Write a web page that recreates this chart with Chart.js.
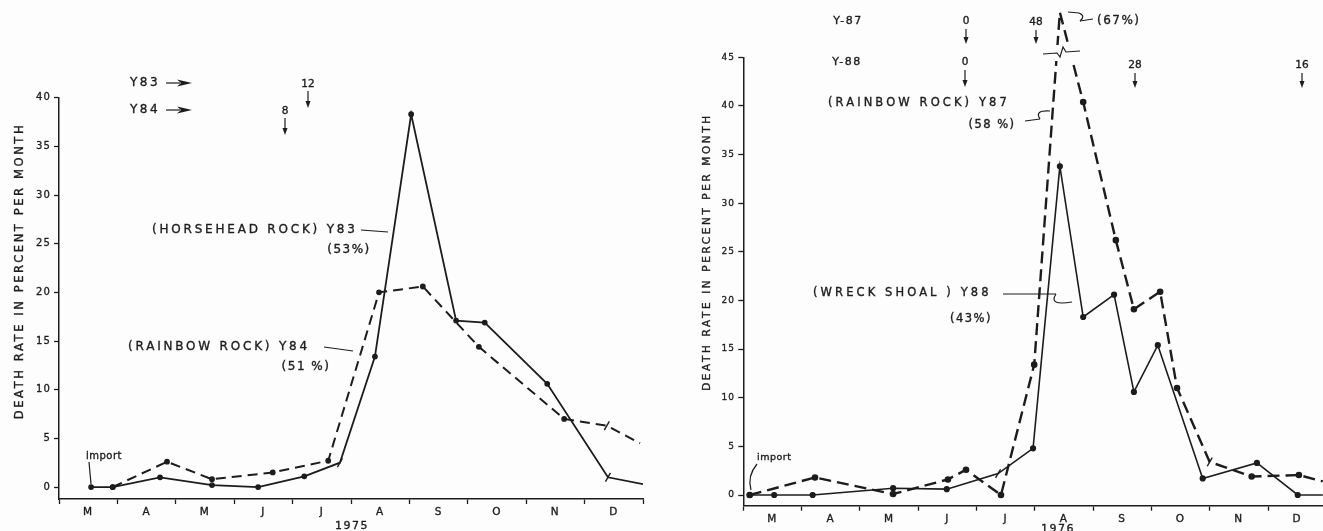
<!DOCTYPE html>
<html>
<head>
<meta charset="utf-8">
<script src="https://cdn.jsdelivr.net/npm/chart.js@4.4.1/dist/chart.umd.min.js"></script>
<style>
  html, body { margin: 0; padding: 0; background: #fdfdfd; }
  #wrap { position: relative; width: 1323px; height: 531px; overflow: hidden; }
  canvas { position: absolute; top: 0; }
  #left { left: 0; }
  #right { left: 660px; }
</style>
</head>
<body>
<div id="wrap">
  <canvas id="left" width="660" height="531"></canvas>
  <canvas id="right" width="680" height="531"></canvas>
</div>
<script>
// months on the x axis, March..December; x values are months since 1 March
const MONTHS = ['M', 'A', 'M', 'J', 'J', 'A', 'S', 'O', 'N', 'D'];
const Y_TICKS_1975 = [0, 5, 10, 15, 20, 25, 30, 35, 40];
const Y_TICKS_1976 = [0, 5, 10, 15, 20, 25, 30, 35, 40, 45];

// 1975 - Horsehead Rock Y83 (solid)
const Y83_MONTH = [0.55, 0.92, 1.73, 2.62, 3.41, 4.20, 4.81, 5.41, 6.03, 6.80, 7.29, 8.36, 9.40, 10.0];
const Y83_RATE  = [0, 0, 1.0, 0.2, 0, 1.1, 2.5, 13.4, 38.3, 17.1, 16.9, 10.6, 1.0, 0.3];

// 1975 - Rainbow Rock Y84 (dashed)
const Y84_MONTH = [0.92, 1.85, 2.62, 3.66, 4.61, 5.48, 6.23, 7.19, 8.65, 9.38, 9.95];
const Y84_RATE  = [0, 2.6, 0.8, 1.5, 2.7, 20.0, 20.6, 14.4, 7.0, 6.3, 4.5];

// 1976 - Wreck Shoal Y88 (solid)
const Y88_MONTH = [0.11, 0.53, 1.19, 2.57, 3.49, 4.37, 4.97, 5.43, 5.83, 6.36, 6.70, 7.11, 7.88, 8.81, 9.51, 9.94];
const Y88_RATE  = [0, 0, 0, 0.7, 0.6, 2.2, 4.8, 33.8, 18.3, 20.6, 10.6, 15.4, 1.7, 3.3, 0, 0];

// 1976 - Rainbow Rock Y87 (dashed); the 67 % peak sits above the axis break
const Y87_MONTH = [0.11, 1.23, 2.57, 3.51, 3.82, 4.42, 4.99, 5.43, 5.83, 6.39, 6.70, 7.15, 7.44, 8.00, 8.72, 9.53, 9.94];
const Y87_RATE  = [0, 1.8, 0.1, 1.6, 2.6, 0, 13.4, 67, 40.4, 26.2, 19.1, 20.9, 11.0, 3.4, 1.9, 2.05, 1.4];

const INK = '#1c1c1c';
const FONT = 'DejaVu Sans';

// values above 45 are squeezed into the strip above the broken axis
const brk = v => v > 45 ? 45 + (v - 45) * 0.21 : v;

function points(xs, ys, f) {
  return xs.map((x, i) => ({ x: x, y: f ? f(ys[i]) : ys[i] }));
}

// dots at readings, slanted ticks where marked, nothing at the clipped end
function marks(n, crosses, bare, r) {
  const style = [], rad = [], rot = [];
  for (let i = 0; i < n; i++) {
    if (crosses.includes(i)) { style.push('line'); rad.push(5); rot.push(-60); }
    else { style.push('circle'); rad.push(bare.includes(i) ? 0 : r); rot.push(0); }
  }
  return { pointStyle: style, pointRadius: rad, pointRotation: rot };
}

const spacing = {
  id: 'spacing',
  beforeDraw(chart) { chart.ctx.letterSpacing = '1.2px'; }
};

function notesPlugin(items, dx) {
  return {
    id: 'notes',
    afterDraw(chart) {
      const ctx = chart.ctx;
      ctx.save();
      ctx.fillStyle = INK;
      ctx.strokeStyle = INK;
      ctx.textBaseline = 'middle';
      items.forEach(it => {
        ctx.lineWidth = 1.2;
        if (it.type === 'text' || it.type === 'vtext') {
          ctx.font = it.size + 'px "' + FONT + '"';
          ctx.letterSpacing = (it.sp ?? 2.5) + 'px';
          ctx.textAlign = it.align || 'left';
          ctx.lineWidth = 0.35;
          if (it.type === 'vtext') {
            ctx.save();
            ctx.translate(it.x - dx, it.y);
            ctx.rotate(-Math.PI / 2);
            ctx.textAlign = 'center';
            ctx.strokeText(it.text, 0, 0);
            ctx.fillText(it.text, 0, 0);
            ctx.restore();
          } else {
            ctx.strokeText(it.text, it.x - dx, it.y);
            ctx.fillText(it.text, it.x - dx, it.y);
          }
        } else if (it.type === 'line') {
          ctx.beginPath();
          it.pts.forEach((p, i) => i ? ctx.lineTo(p[0] - dx, p[1]) : ctx.moveTo(p[0] - dx, p[1]));
          ctx.stroke();
        } else if (it.type === 'quad') {
          const q = it.q;
          ctx.beginPath();
          ctx.moveTo(q[0] - dx, q[1]);
          ctx.quadraticCurveTo(q[2] - dx, q[3], q[4] - dx, q[5]);
          ctx.stroke();
        } else if (it.type === 'arrowR') {
          ctx.beginPath();
          ctx.moveTo(it.x1 - dx, it.y);
          ctx.lineTo(it.x2 - 12 - dx, it.y);
          ctx.stroke();
          ctx.beginPath();
          ctx.moveTo(it.x2 - dx, it.y);
          ctx.lineTo(it.x2 - 15 - dx, it.y - 3.5);
          ctx.lineTo(it.x2 - 11 - dx, it.y);
          ctx.lineTo(it.x2 - 15 - dx, it.y + 3.5);
          ctx.closePath();
          ctx.fill();
        } else if (it.type === 'arrowD') {
          ctx.beginPath();
          ctx.moveTo(it.x - dx, it.y1);
          ctx.lineTo(it.x - dx, it.y2 - 5);
          ctx.stroke();
          ctx.beginPath();
          ctx.moveTo(it.x - dx, it.y2);
          ctx.lineTo(it.x - 2.5 - dx, it.y2 - 7);
          ctx.lineTo(it.x + 2.5 - dx, it.y2 - 7);
          ctx.closePath();
          ctx.fill();
        } else if (it.type === 'gap') {
          // white band that interrupts the lines at the axis break
          ctx.fillStyle = '#fdfdfd';
          ctx.fillRect(it.x - dx, it.y, it.w, it.h);
          ctx.fillStyle = INK;
        }
      });
      ctx.restore();
    }
  };
}

const NOTES_1975 = [
  { type: 'text', text: 'Y83', x: 130, y: 83, size: 12, sp: 2.5 },
  { type: 'arrowR', x1: 166, x2: 192, y: 83 },
  { type: 'text', text: 'Y84', x: 130, y: 110, size: 12, sp: 2.5 },
  { type: 'arrowR', x1: 166, x2: 192, y: 110 },
  { type: 'text', text: '12', x: 308, y: 84, size: 10.5, align: 'center', sp: 0 },
  { type: 'arrowD', x: 308, y1: 91, y2: 108 },
  { type: 'text', text: '8', x: 285, y: 111, size: 10.5, align: 'center', sp: 0 },
  { type: 'arrowD', x: 285, y1: 118, y2: 135 },
  { type: 'text', text: '(HORSEHEAD ROCK) Y83', x: 152, y: 230, size: 12, sp: 2.8 },
  { type: 'line', pts: [[361, 230], [388, 232]] },
  { type: 'text', text: '(53%)', x: 349, y: 250, size: 12, align: 'center', sp: 1.5 },
  { type: 'text', text: '(RAINBOW ROCK) Y84', x: 128, y: 347, size: 12, sp: 2.8 },
  { type: 'line', pts: [[324, 347], [353, 351]] },
  { type: 'text', text: '(51 %)', x: 306, y: 367, size: 12, align: 'center', sp: 1.5 },
  { type: 'text', text: 'import', x: 86, y: 456, size: 10, sp: 0.5 },
  { type: 'line', pts: [[89, 462], [91, 484]] },
  { type: 'vtext', text: 'DEATH RATE IN PERCENT PER MONTH', x: 20, y: 271, size: 11.5, sp: 2.6 },
  { type: 'text', text: '1975', x: 352, y: 526, size: 11, align: 'center', sp: 1.5 }
];

const NOTES_1976 = [
  { type: 'text', text: 'Y-87', x: 848, y: 21, size: 11, align: 'center', sp: 1.5 },
  { type: 'text', text: '0', x: 966, y: 21, size: 10.5, align: 'center', sp: 0 },
  { type: 'arrowD', x: 966, y1: 29, y2: 44 },
  { type: 'text', text: '48', x: 1036, y: 22, size: 10.5, align: 'center', sp: 0 },
  { type: 'arrowD', x: 1036, y1: 30, y2: 44 },
  { type: 'text', text: '(67%)', x: 1097, y: 21, size: 12, sp: 1.5 },
  { type: 'line', pts: [[1068, 12], [1079, 13]] },
  { type: 'quad', q: [1079, 13, 1086, 16, 1080, 21] },
  { type: 'line', pts: [[1080, 21], [1093, 19]] },
  { type: 'text', text: 'Y-88', x: 847, y: 62, size: 11, align: 'center', sp: 1.5 },
  { type: 'text', text: '0', x: 965, y: 62, size: 10.5, align: 'center', sp: 0 },
  { type: 'arrowD', x: 965, y1: 70, y2: 87 },
  { type: 'text', text: '28', x: 1135, y: 65, size: 10.5, align: 'center', sp: 0 },
  { type: 'arrowD', x: 1135, y1: 73, y2: 88 },
  { type: 'text', text: '16', x: 1302, y: 65, size: 10.5, align: 'center', sp: 0 },
  { type: 'arrowD', x: 1302, y1: 73, y2: 88 },
  { type: 'text', text: '(RAINBOW ROCK) Y87', x: 828, y: 103, size: 11.5, sp: 3.1 },
  { type: 'text', text: '(58 %)', x: 992, y: 125, size: 11.5, align: 'center', sp: 1.5 },
  { type: 'line', pts: [[1025, 121], [1040, 119]] },
  { type: 'quad', q: [1040, 119, 1034, 110, 1050, 111] },
  { type: 'text', text: '(WRECK SHOAL ) Y88', x: 813, y: 293, size: 11.5, sp: 3.1 },
  { type: 'line', pts: [[1003, 294], [1056, 294]] },
  { type: 'quad', q: [1056, 294, 1048, 306, 1072, 302] },
  { type: 'text', text: '(43%)', x: 971, y: 319, size: 11.5, align: 'center', sp: 1.5 },
  { type: 'text', text: 'import', x: 757, y: 458, size: 9.5, sp: 0.5 },
  { type: 'quad', q: [757, 464, 747, 476, 751, 490] },
  { type: 'gap', x: 1045, y: 45, w: 33, h: 16 },
  { type: 'line', pts: [[1043, 54], [1057, 53], [1060, 57], [1063, 47], [1066, 52], [1080, 51]] },
  { type: 'vtext', text: 'DEATH RATE IN PERCENT PER MONTH', x: 707, y: 252, size: 10.5, sp: 2.6 },
  { type: 'text', text: '1976', x: 1058, y: 529, size: 11, align: 'center', sp: 1.5 }
];

function axes(yMin, yMax, yTicks, yWidth, xHeight, tickSize) {
  return {
    x: {
      type: 'linear', min: 0, max: 10,
      afterFit: s => { s.height = xHeight; },
      border: { color: INK, width: 1.5 },
      grid: {
        drawOnChartArea: false, tickLength: 5, tickWidth: 1.3,
        tickColor: c => (c.tick && Number.isInteger(c.tick.value)) ? INK : 'rgba(0,0,0,0)'
      },
      ticks: {
        stepSize: 0.5, autoSkip: false, maxRotation: 0, padding: 2, color: INK,
        textStrokeColor: INK, textStrokeWidth: 0.35,
        font: { family: FONT, size: 10.5 },
        callback: v => Number.isInteger(v) ? '' : MONTHS[Math.floor(v)]
      }
    },
    y: {
      min: yMin, max: yMax,
      afterBuildTicks: s => { s.ticks = yTicks.map(v => ({ value: v })); },
      afterFit: s => { s.width = yWidth; },
      border: { color: INK, width: 1.5 },
      grid: { drawOnChartArea: false, tickLength: 5, tickWidth: 1.3, tickColor: INK },
      ticks: {
        padding: 3, color: INK, textStrokeColor: INK, textStrokeWidth: 0.3,
        font: { family: FONT, size: tickSize }
      }
    }
  };
}

const common = {
  responsive: false,
  animation: false,
  plugins: { legend: { display: false }, tooltip: { enabled: false } },
  elements: { line: { tension: 0 } }
};

// Left panel, 1975
new Chart(document.getElementById('left'), {
  type: 'line',
  data: {
    datasets: [
      Object.assign({
        data: points(Y83_MONTH, Y83_RATE),
        borderColor: INK, borderWidth: 1.8,
        pointBackgroundColor: INK, pointBorderColor: INK, pointBorderWidth: 1.4
      }, marks(Y83_MONTH.length, [6, 12], [13], 2.2)),
      Object.assign({
        data: points(Y84_MONTH, Y84_RATE),
        borderColor: INK, borderWidth: 2, borderDash: [10, 6],
        pointBackgroundColor: INK, pointBorderColor: INK, pointBorderWidth: 1.4
      }, marks(Y84_MONTH.length, [9], [10], 2.2))
    ]
  },
  options: Object.assign({}, common, {
    layout: { padding: { top: 97.7, right: 17, bottom: 0, left: 0 } },
    scales: axes(-1.23, 40, Y_TICKS_1975, 59, 32, 10)
  }),
  plugins: [spacing, notesPlugin(NOTES_1975, 0)]
});

// Right panel, 1976
new Chart(document.getElementById('right'), {
  type: 'line',
  data: {
    datasets: [
      Object.assign({
        data: points(Y88_MONTH, Y88_RATE),
        borderColor: INK, borderWidth: 1.6,
        pointBackgroundColor: INK, pointBorderColor: INK, pointBorderWidth: 1.4
      }, marks(Y88_MONTH.length, [5], [15], 2.4)),
      Object.assign({
        data: points(Y87_MONTH, Y87_RATE, brk),
        borderColor: INK, borderWidth: 2.4, borderDash: [12, 6], clip: false,
        pointBackgroundColor: INK, pointBorderColor: INK, pointBorderWidth: 1.4
      }, marks(Y87_MONTH.length, [13], [16], 2.6))
    ]
  },
  options: Object.assign({}, common, {
    layout: { padding: { top: 57.3, right: 13.7, bottom: 0, left: 0 } },
    scales: axes(-1.1, 45, Y_TICKS_1976, 83.3, 25.3, 9)
  }),
  plugins: [spacing, notesPlugin(NOTES_1976, 660)]
});
</script>
</body>
</html>
